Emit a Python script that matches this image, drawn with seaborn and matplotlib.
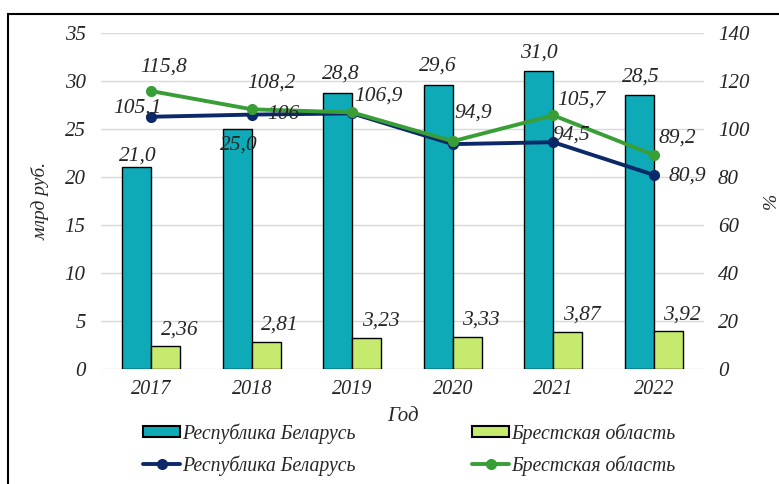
import matplotlib
matplotlib.use("Agg")
import matplotlib.pyplot as plt
import seaborn as sns
import pandas as pd
import numpy as np
from matplotlib.patches import Rectangle
from matplotlib.lines import Line2D
from matplotlib.patches import Patch

years = ["2017", "2018", "2019", "2020", "2021", "2022"]
rb_bars = [21.0, 25.0, 28.8, 29.6, 31.0, 28.5]
brest_bars = [2.36, 2.81, 3.23, 3.33, 3.87, 3.92]
rb_pct = [105.1, 106.0, 106.5, 93.7, 94.5, 80.9]
brest_pct = [115.8, 108.2, 106.9, 94.9, 105.7, 89.2]
rb_bar_labels = ["21,0", "25,0", "28,8", "29,6", "31,0", "28,5"]
brest_bar_labels = ["2,36", "2,81", "3,23", "3,33", "3,87", "3,92"]
rb_pct_labels = ["105,1", "106", "", "", "94,5", "80,9"]
brest_pct_labels = ["115,8", "108,2", "106,9", "94,9", "105,7", "89,2"]
series_names = ["Республика Беларусь", "Брестская область"]

C_TEAL = "#0EAAB8"
C_LGREEN = "#C5EA6E"
C_NAVY = "#0B2868"
C_GREEN = "#3A9E37"

sns.set_theme(style="white")
plt.rcParams['font.family'] = ['Liberation Serif', 'DejaVu Serif']
plt.rcParams['font.style'] = 'italic'
FS_X = 14.5
FS_LBL = 15.5
FS_YT = 15
FS_LEG = 14.2

fig = plt.figure(figsize=(7.79, 4.84), dpi=100)
ax = fig.add_axes([101/779, 1-369/484, 603/779, 336/484])

df = pd.DataFrame({
    "year": years * 2,
    "value": rb_bars + brest_bars,
    "series": [series_names[0]] * 6 + [series_names[1]] * 6,
})
sns.barplot(data=df, x="year", y="value", hue="series", order=years,
            hue_order=series_names, palette=[C_TEAL, C_LGREEN],
            width=0.58, edgecolor="black", linewidth=1.0, ax=ax,
            legend=False, saturation=1)

ax.set_ylim(0, 35)
ax.set_xlim(-0.5, 5.5)
ax.set_yticks(range(0, 36, 5))
ax.yaxis.grid(True, color="#D9D9D9", linewidth=1.0)
ax.set_axisbelow(True)
for s in ax.spines.values():
    s.set_visible(False)
ax.tick_params(axis="y", length=0, pad=11, labelsize=FS_YT)
ax.tick_params(axis="x", length=0, pad=8, labelsize=FS_X)
ax.set_xlabel("Год", fontsize=15, labelpad=6)
ax.set_ylabel("млрд руб.", fontsize=14, labelpad=11)

# bar labels
x = np.arange(len(years))
rb_bar_off = [(1, 8.5), (1, -11.5), (2, 13.5), (0, 13.5), (0, 13.5), (1, 13)]
for i in range(len(years)):
    ax.annotate(rb_bar_labels[i], (x[i] - 0.145, rb_bars[i]),
                xytext=rb_bar_off[i], textcoords="offset points",
                ha="center", va="center", fontsize=FS_LBL)
    ax.annotate(brest_bar_labels[i], (x[i] + 0.145, brest_bars[i]),
                xytext=(10, 12), textcoords="offset points",
                ha="center", va="center", fontsize=FS_LBL)

ax2 = ax.twinx()
ax2.set_position(ax.get_position())
ax2.plot(x, rb_pct, color=C_NAVY, lw=2.8, marker="o", ms=7, zorder=3)
ax2.plot(x, brest_pct, color=C_GREEN, lw=2.8, marker="o", ms=7, zorder=4)
ax2.set_ylim(0, 140)
ax2.set_yticks(range(0, 141, 20))
ax2.grid(False)
for s in ax2.spines.values():
    s.set_visible(False)
ax2.tick_params(axis="y", length=0, pad=10, labelsize=FS_YT)
ax2.set_ylabel("%", fontsize=14, labelpad=10)

rb_off = [(-10, 6), (23, 0), (0, 0), (0, 0), (13, 5), (24, -1)]
br_off = [(9, 17), (14, 19), (19, 12), (15, 20), (20, 11), (17, 12)]
for i in range(len(years)):
    if rb_pct_labels[i]:
        ax2.annotate(rb_pct_labels[i], (x[i], rb_pct[i]), xytext=rb_off[i],
                     textcoords="offset points", ha="center", va="center",
                     fontsize=FS_LBL, zorder=5)
    ax2.annotate(brest_pct_labels[i], (x[i], brest_pct[i]), xytext=br_off[i],
                 textcoords="offset points", ha="center", va="center",
                 fontsize=FS_LBL, zorder=5)

handles = [
    Patch(facecolor=C_TEAL, edgecolor="black", linewidth=1.5),
    Line2D([], [], color=C_NAVY, lw=2.8, marker="o", ms=7),
    Patch(facecolor=C_LGREEN, edgecolor="black", linewidth=1.5),
    Line2D([], [], color=C_GREEN, lw=2.8, marker="o", ms=7),
]
labels = [series_names[0], series_names[0], series_names[1], series_names[1]]
fig.legend(handles, labels, loc="center", bbox_to_anchor=(409.5/779, 1-449.5/484),
           ncol=2, frameon=False, fontsize=FS_LEG, handlelength=1.88,
           handleheight=0.5, handletextpad=0.1, columnspacing=5.9,
           labelspacing=0.57, borderpad=0.2)

fig.patches.append(Rectangle((8/779, -0.2), 1.2, 0.2 + 1 - 14/484,
                             transform=fig.transFigure, fill=False,
                             edgecolor="black", linewidth=1.5))

fig.savefig("out.png", dpi=100)
